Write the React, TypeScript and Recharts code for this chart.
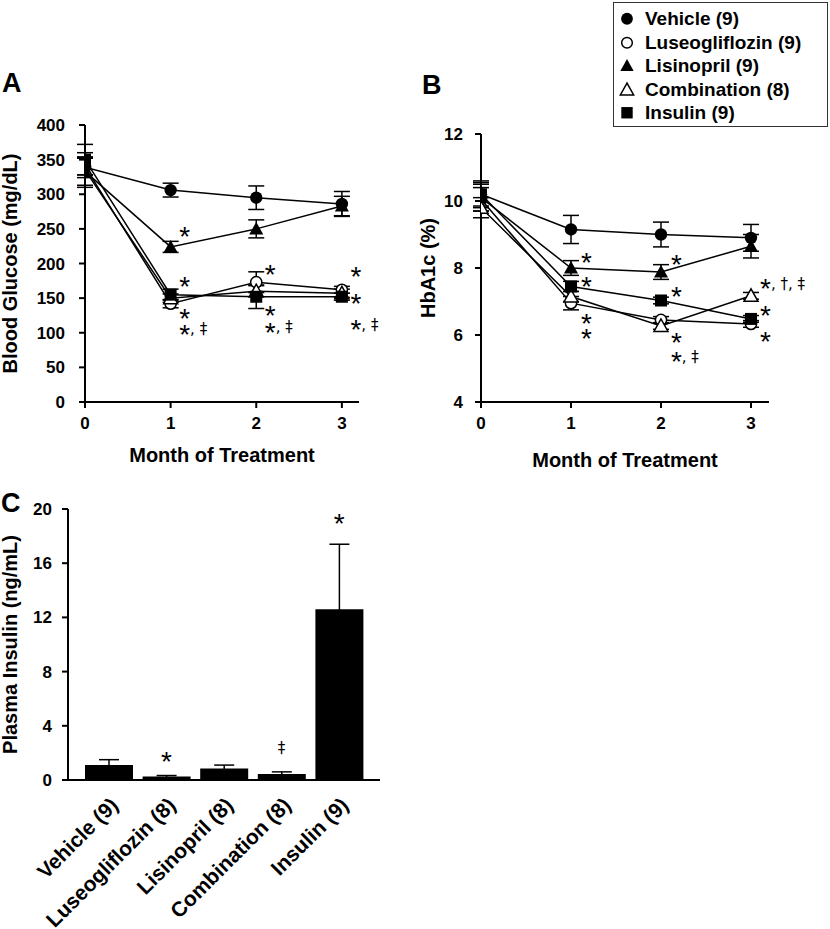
import React from 'react';
import {
  ComposedChart,
  BarChart,
  Bar,
  Line,
  XAxis,
  YAxis,
  ErrorBar,
  ReferenceDot,
  Label,
} from 'recharts';

const FONT = '"Liberation Sans", Arial, Helvetica, sans-serif';
const MARK_FONT = '"DejaVu Sans", "Liberation Sans", sans-serif';

// ---------- shared ----------
const months = [0, 1, 2, 3];
const monthTicks = [0, 1, 2, 3];

// ---------- Panel A: blood glucose (mg/dL) ----------
const glucoseTicks = [0, 50, 100, 150, 200, 250, 300, 350, 400];
const glucoseVehicle = [339, 306, 295, 286];
const glucoseVehicleSem = [15, 10, 17, 18];
const glucoseLuseo = [340, 142, 173, 162];
const glucoseLuseoSem = [12, 6, 15, 5];
const glucoseLisino = [333, 224, 250, 283];
const glucoseLisinoSem = [20, 8, 13, 14];
const glucoseCombo = [335, 150, 160, 157];
const glucoseComboSem = [25, 6, 8, 6];
const glucoseInsulin = [350, 155, 152, 152];
const glucoseInsulinSem = [22, 8, 17, 5];
const glucoseNotes = [
  { m: 1.1, v: 248, t: '*' },
  { m: 1.1, v: 176, t: '*' },
  { m: 1.1, v: 130, t: '*' },
  { m: 1.1, v: 107, t: '*, ‡' },
  { m: 2.1, v: 193, t: '*' },
  { m: 2.1, v: 135, t: '*' },
  { m: 2.1, v: 110, t: '*, ‡' },
  { m: 3.1, v: 190, t: '*' },
  { m: 3.1, v: 151, t: '*' },
  { m: 3.1, v: 114, t: '*, ‡' },
];

// ---------- Panel B: HbA1c (%) ----------
const hbTicks = [4, 6, 8, 10, 12];
const hbVehicle = [10.2, 9.15, 9.0, 8.9];
const hbVehicleSem = [0.4, 0.42, 0.37, 0.4];
const hbLuseo = [10.05, 6.95, 6.45, 6.33];
const hbLuseoSem = [0.35, 0.2, 0.1, 0.1];
const hbLisino = [10.1, 8.0, 7.88, 8.65];
const hbLisinoSem = [0.4, 0.22, 0.22, 0.35];
const hbCombo = [9.8, 7.15, 6.27, 7.17];
const hbComboSem = [0.3, 0.15, 0.1, 0.1];
const hbInsulin = [10.2, 7.45, 7.03, 6.48];
const hbInsulinSem = [0.35, 0.15, 0.1, 0.1];
const hbNotes = [
  { m: 1.11, v: 8.35, t: '*' },
  { m: 1.11, v: 7.65, t: '*' },
  { m: 1.11, v: 6.55, t: '*' },
  { m: 1.11, v: 6.1, t: '*' },
  { m: 2.11, v: 8.3, t: '*' },
  { m: 2.11, v: 7.35, t: '*' },
  { m: 2.11, v: 5.96, t: '*' },
  { m: 2.11, v: 5.4, t: '*, ‡' },
  { m: 3.1, v: 7.57, t: '*, †, ‡' },
  { m: 3.1, v: 6.78, t: '*' },
  { m: 3.1, v: 6.0, t: '*' },
];

// ---------- Panel C: plasma insulin (ng/mL) ----------
const insulinGroups = ['Vehicle (9)', 'Luseogliflozin (8)', 'Lisinopril (8)', 'Combination (8)', 'Insulin (9)'];
const insulinValues = [1.1, 0.25, 0.85, 0.45, 12.6];
const insulinSem = [0.4, 0.08, 0.25, 0.15, 4.8];
const insulinTicks = [0, 4, 8, 12, 16, 20];
const insulinNotes = [
  { g: 'Luseogliflozin (8)', v: 1.85, t: '*' },
  { g: 'Combination (8)', v: 2.35, t: '‡' },
  { g: 'Insulin (9)', v: 19.4, t: '*' },
];

// ---------- series / legend ----------
const seriesDefs = [
  { key: 'luseo', kind: 'ocircle' },
  { key: 'combo', kind: 'otri' },
  { key: 'lisino', kind: 'tri' },
  { key: 'veh', kind: 'circle' },
  { key: 'ins', kind: 'square' },
];
const legendItems = [
  { label: 'Vehicle (9)', kind: 'circle' },
  { label: 'Luseogliflozin (9)', kind: 'ocircle' },
  { label: 'Lisinopril (9)', kind: 'tri' },
  { label: 'Combination (8)', kind: 'otri' },
  { label: 'Insulin (9)', kind: 'square' },
];

const glucoseRows = months.map((m, i) => ({
  m,
  veh: glucoseVehicle[i], vehE: glucoseVehicleSem[i],
  luseo: glucoseLuseo[i], luseoE: glucoseLuseoSem[i],
  lisino: glucoseLisino[i], lisinoE: glucoseLisinoSem[i],
  combo: glucoseCombo[i], comboE: glucoseComboSem[i],
  ins: glucoseInsulin[i], insE: glucoseInsulinSem[i],
}));
const hbRows = months.map((m, i) => ({
  m,
  veh: hbVehicle[i], vehE: hbVehicleSem[i],
  luseo: hbLuseo[i], luseoE: hbLuseoSem[i],
  lisino: hbLisino[i], lisinoE: hbLisinoSem[i],
  combo: hbCombo[i], comboE: hbComboSem[i],
  ins: hbInsulin[i], insE: hbInsulinSem[i],
}));
const insulinRows = insulinGroups.map((g, i) => ({ g, v: insulinValues[i], e: insulinSem[i] }));

function Marker({ cx, cy, kind, s = 1 }: { cx: number; cy: number; kind: string; s?: number }) {
  if (cx == null || cy == null || isNaN(cx) || isNaN(cy)) return null;
  switch (kind) {
    case 'circle':
      return <circle cx={cx} cy={cy} r={6.2 * s} fill="#000" />;
    case 'ocircle':
      return <circle cx={cx} cy={cy} r={5.6 * s} fill="#fff" stroke="#000" strokeWidth={1.5} />;
    case 'tri':
      return (
        <polygon
          points={`${cx},${cy - 7 * s} ${cx - 7 * s},${cy + 5.5 * s} ${cx + 7 * s},${cy + 5.5 * s}`}
          fill="#000"
        />
      );
    case 'otri':
      return (
        <polygon
          points={`${cx},${cy - 7 * s} ${cx - 7 * s},${cy + 5.5 * s} ${cx + 7 * s},${cy + 5.5 * s}`}
          fill="#fff"
          stroke="#000"
          strokeWidth={1.5}
        />
      );
    default:
      return <rect x={cx - 6 * s} y={cy - 6 * s} width={12 * s} height={12 * s} fill="#000" />;
  }
}

function NoteText({ cx, cy, t, anchor = 'start' }: { cx: number; cy: number; t: string; anchor?: string }) {
  if (cx == null || cy == null) return null;
  if (t.startsWith('*')) {
    const rest = t.slice(1);
    return (
      <text x={cx} y={cy} textAnchor={anchor} fontFamily={FONT} fill="#000">
        <tspan fontSize={28} dy={16}>*</tspan>
        {rest ? (
          <tspan fontSize={15} fontFamily={MARK_FONT} dy={-9.5}>{rest}</tspan>
        ) : null}
      </text>
    );
  }
  return (
    <text x={cx} y={cy + 5} textAnchor={anchor} fontFamily={MARK_FONT} fontSize={15} fill="#000">
      {t}
    </text>
  );
}

const tickStyle = { fill: '#000', fontSize: 17, fontWeight: 'bold', fontFamily: FONT };
const titleStyle = { fill: '#000', fontSize: 20, fontWeight: 'bold', fontFamily: FONT };
const axisLine = { stroke: '#000', strokeWidth: 2 };
const tickLine = { stroke: '#000', strokeWidth: 2 };

function LinePanel({
  rows,
  yDomain,
  yTicks,
  notes,
  width,
  height,
  margin,
  yWidth,
  xHeight,
  yTitle,
  yTitleOffset,
  xTitleOffset,
  yTickMargin,
}: any) {
  return (
    <ComposedChart width={width} height={height} data={rows} margin={margin}>
      <XAxis
        type="number"
        dataKey="m"
        domain={[0, 3.2]}
        ticks={monthTicks}
        allowDataOverflow
        interval={0}
        height={xHeight}
        axisLine={axisLine}
        tickLine={tickLine}
        tickSize={6}
        tickMargin={9}
        tick={tickStyle}
      >
        <Label value="Month of Treatment" position="insideBottom" offset={xTitleOffset} style={titleStyle} />
      </XAxis>
      <YAxis
        type="number"
        domain={yDomain}
        ticks={yTicks}
        allowDataOverflow
        interval={0}
        width={yWidth}
        axisLine={axisLine}
        tickLine={tickLine}
        tickSize={6}
        tickMargin={yTickMargin}
        tick={tickStyle}
      >
        <Label
          value={yTitle}
          angle={-90}
          position="insideLeft"
          offset={yTitleOffset}
          style={{ ...titleStyle, textAnchor: 'middle' }}
        />
      </YAxis>
      {seriesDefs.map((s) => (
        <Line
          key={s.key}
          dataKey={s.key}
          stroke="#000"
          strokeWidth={1.5}
          isAnimationActive={false}
          activeDot={false}
          dot={(p: any) => <Marker key={`${s.key}-${p.index}`} cx={p.cx} cy={p.cy} kind={s.kind} />}
        >
          <ErrorBar dataKey={`${s.key}E`} width={8} stroke="#000" strokeWidth={1.5} direction="y" />
        </Line>
      ))}
      {notes.map((n: any, i: number) => (
        <ReferenceDot
          key={`n${i}`}
          x={n.m}
          y={n.v}
          r={0}
          ifOverflow="visible"
          shape={(p: any) => <NoteText cx={p.cx} cy={p.cy} t={n.t} />}
        />
      ))}
    </ComposedChart>
  );
}

const letterStyle: React.CSSProperties = {
  position: 'absolute',
  fontFamily: FONT,
  fontWeight: 'bold',
  fontSize: 27,
  lineHeight: '30px',
  color: '#000',
};

export default function App() {
  return (
    <div style={{ position: 'absolute', left: 0, top: 0, width: 830, height: 929, background: '#fff', overflow: 'hidden' }}>
      <div style={{ position: 'absolute', left: 0, top: 0 }}>
        <LinePanel
          rows={glucoseRows}
          yDomain={[0, 400]}
          yTicks={glucoseTicks}
          notes={glucoseNotes}
          width={400}
          height={470}
          margin={{ top: 125, right: 41, bottom: 0, left: 0 }}
          yWidth={85}
          xHeight={68}
          yTitle="Blood Glucose (mg/dL)"
          yTitleOffset={10}
          xTitleOffset={8}
          yTickMargin={14}
        />
      </div>
      <div style={{ position: 'absolute', left: 400, top: 0 }}>
        <LinePanel
          rows={hbRows}
          yDomain={[4, 12]}
          yTicks={hbTicks}
          notes={hbNotes}
          width={430}
          height={470}
          margin={{ top: 134, right: 61, bottom: 0, left: 0 }}
          yWidth={81}
          xHeight={68}
          yTitle="HbA1c (%)"
          yTitleOffset={28}
          xTitleOffset={3}
          yTickMargin={12}
        />
      </div>
      <div style={{ position: 'absolute', left: 0, top: 470 }}>
        <BarChart width={400} height={459} data={insulinRows} margin={{ top: 39, right: 20, bottom: 0, left: 0 }}>
          <XAxis
            type="category"
            dataKey="g"
            interval={0}
            padding={{ left: 12, right: 12 }}
            height={149}
            axisLine={axisLine}
            tickLine={false}
            tickSize={6}
            tickMargin={10}
            tick={{ ...tickStyle, fontSize: 21, angle: -45, textAnchor: 'end' }}
          />
          <YAxis
            type="number"
            domain={[0, 20]}
            ticks={insulinTicks}
            allowDataOverflow
            interval={0}
            width={68}
            axisLine={axisLine}
            tickLine={tickLine}
            tickSize={6}
            tickMargin={10}
            tick={tickStyle}
          >
            <Label
              value="Plasma Insulin (ng/mL)"
              angle={-90}
              position="insideLeft"
              offset={10}
              style={{ ...titleStyle, textAnchor: 'middle' }}
            />
          </YAxis>
          <Bar dataKey="v" fill="#000" barSize={48} isAnimationActive={false}>
            <ErrorBar dataKey="e" width={10} stroke="#000" strokeWidth={1.5} direction="y" />
          </Bar>
          {insulinNotes.map((n, i) => (
            <ReferenceDot
              key={`c${i}`}
              x={n.g}
              y={n.v}
              r={0}
              ifOverflow="visible"
              shape={(p: any) => <NoteText cx={p.cx} cy={p.cy} t={n.t} anchor="middle" />}
            />
          ))}
        </BarChart>
      </div>

      <div style={{ ...letterStyle, left: 2, top: 68 }}>A</div>
      <div style={{ ...letterStyle, left: 422, top: 70 }}>B</div>
      <div style={{ ...letterStyle, left: 1, top: 488 }}>C</div>

      <div
        style={{
          position: 'absolute',
          left: 613,
          top: 2,
          width: 215,
          height: 125,
          border: '1.5px solid #333',
          boxSizing: 'border-box',
          background: '#fff',
          fontFamily: FONT,
          fontWeight: 'bold',
          fontSize: 19,
          color: '#000',
        }}
      >
        {legendItems.map((it, i) => (
          <div
            key={it.label}
            style={{ position: 'absolute', left: 0, top: 4 + i * 23.5, height: 23.5, display: 'flex', alignItems: 'center' }}
          >
            <svg width={28} height={23.5} style={{ display: 'block' }}>
              <Marker cx={13} cy={11.75} kind={it.kind} s={0.95} />
            </svg>
            <span style={{ marginLeft: 3, whiteSpace: 'nowrap', lineHeight: '23.5px' }}>{it.label}</span>
          </div>
        ))}
      </div>
    </div>
  );
}
